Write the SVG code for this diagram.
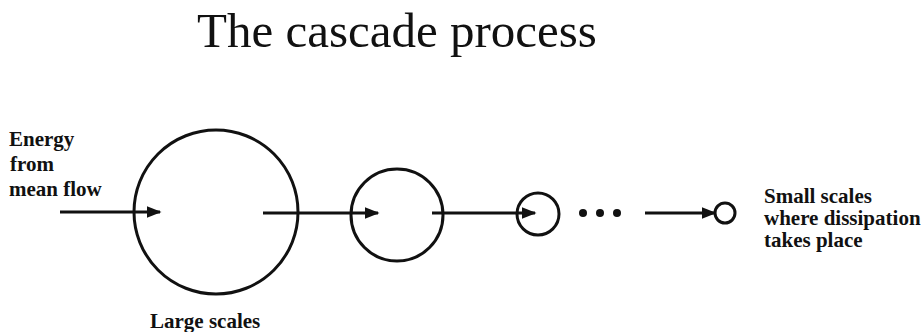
<svg xmlns="http://www.w3.org/2000/svg" width="923" height="332" viewBox="0 0 923 332">
<style>
.title{font-family:"Liberation Serif","Times New Roman",serif;font-size:49px;fill:#111}
.lbl{font-family:"Liberation Serif","Times New Roman",serif;font-size:21px;font-weight:bold;fill:#111}
.node{fill:none;stroke:#111;stroke-width:3}
.edge{stroke:#111;stroke-width:3;fill:none;marker-end:url(#ah)}
.dot{fill:#111}
</style>
<defs>
<marker id="ah" markerWidth="5" markerHeight="4" refX="4.5" refY="2" orient="auto" markerUnits="strokeWidth">
<path d="M0,0 L5,2 L0,4 Z" fill="#111"/>
</marker>
</defs>
<rect width="923" height="332" fill="#fff"/>
<text class="title" x="197" y="47">The cascade process</text>
<g id="source">
<text class="lbl" x="9" y="146">Energy</text>
<text class="lbl" x="10" y="171">from</text>
<text class="lbl" x="9" y="196">mean flow</text>
</g>
<g id="large">
<circle class="node" cx="216" cy="212" r="82"/>
<text class="lbl" x="150" y="328">Large scales</text>
</g>
<g id="medium"><circle class="node" cx="397" cy="215" r="46"/></g>
<g id="small"><circle class="node" cx="538" cy="214" r="21"/></g>
<g id="ellipsis">
<circle class="dot" cx="583" cy="213" r="4"/>
<circle class="dot" cx="600" cy="213" r="4"/>
<circle class="dot" cx="617" cy="213" r="4"/>
</g>
<g id="tiny">
<circle class="node" cx="725" cy="213" r="10"/>
<text class="lbl" x="764" y="203">Small scales</text>
<text class="lbl" x="764" y="225">where dissipation</text>
<text class="lbl" x="764" y="247">takes place</text>
</g>
<g id="connectors">
<line class="edge" x1="60" y1="212" x2="160" y2="212"/>
<line class="edge" x1="263" y1="213" x2="378" y2="213"/>
<line class="edge" x1="432" y1="213" x2="535" y2="213"/>
<line class="edge" x1="645" y1="213" x2="715" y2="213"/>
</g>
</svg>
